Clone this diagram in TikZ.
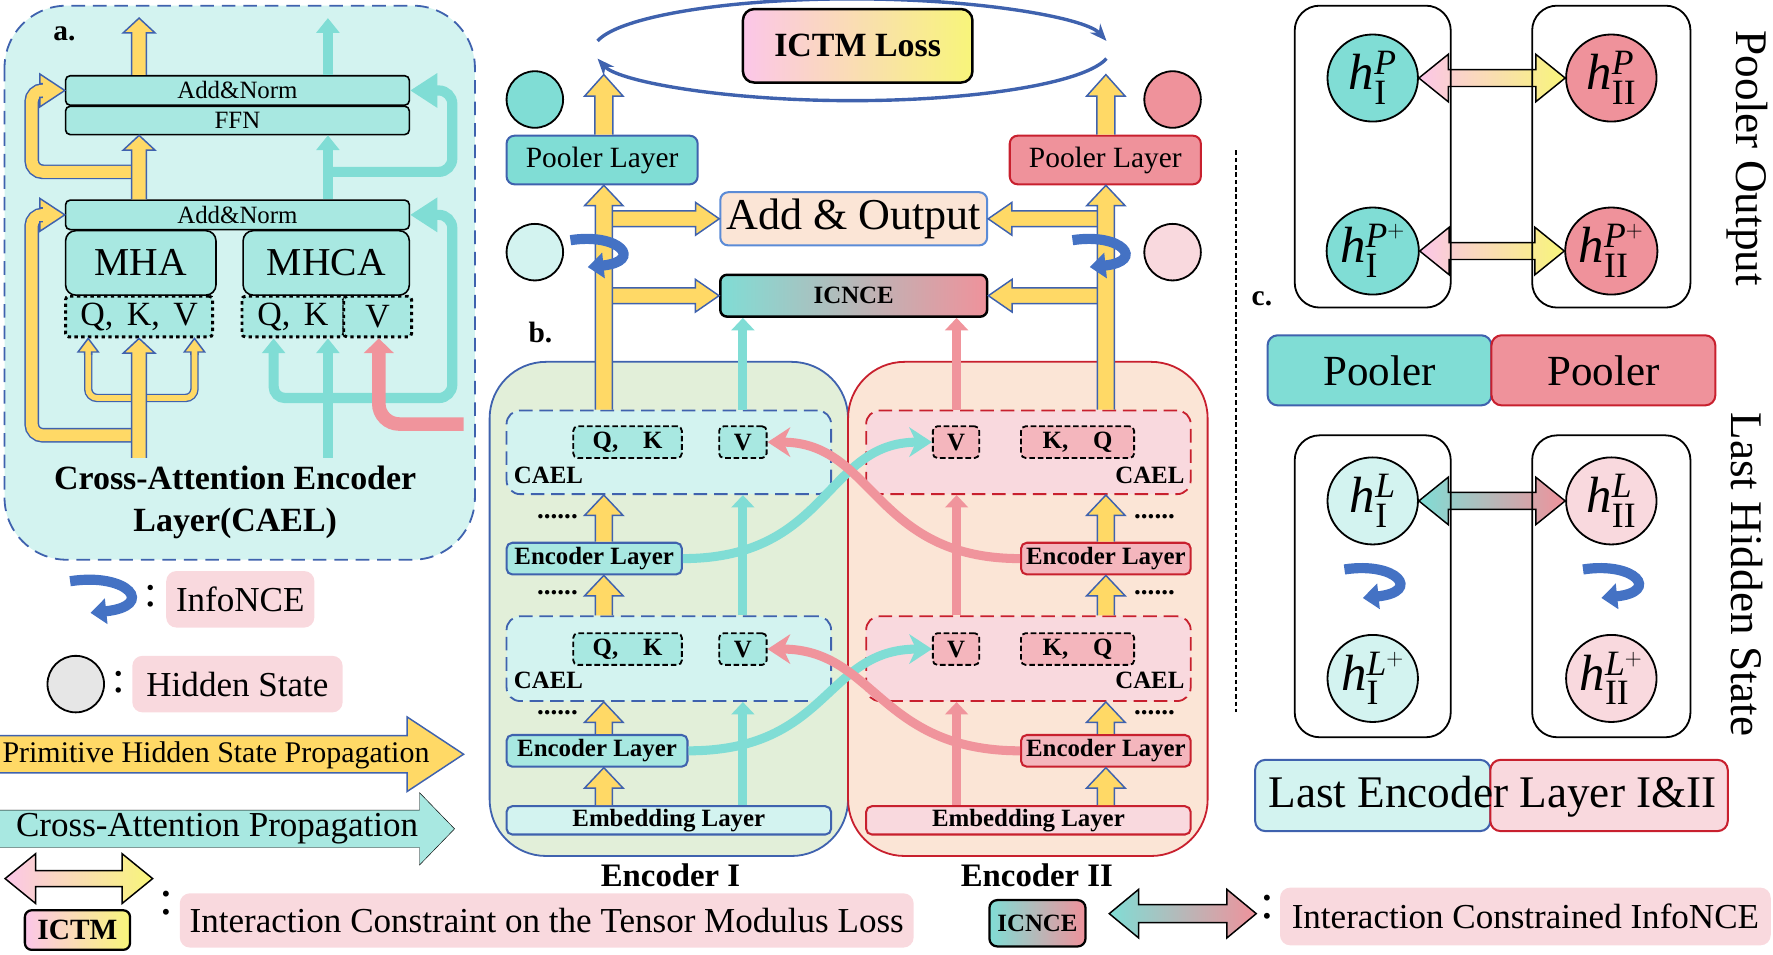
\documentclass[tikz,border=0pt]{standalone}
\usepackage{fontspec}
\setmainfont{Liberation Serif}
\usetikzlibrary{calc,arrows.meta,shapes.geometric}
\definecolor{blu}{HTML}{3F62AE}
\definecolor{blb}{HTML}{5B8BD6}
\definecolor{ylw}{HTML}{FFD966}
\definecolor{cyn}{HTML}{80DDD5}
\definecolor{cynl}{HTML}{D3F3F0}
\definecolor{cynm}{HTML}{A8E8E1}
\definecolor{rda}{HTML}{F0949C}
\definecolor{rdb}{HTML}{EF929B}
\definecolor{rdl}{HTML}{F9D9DE}
\definecolor{rdm}{HTML}{F4B6BD}
\definecolor{rde}{HTML}{C8202E}
\definecolor{grn}{HTML}{E2EFD9}
\definecolor{org}{HTML}{FBE5D6}
\definecolor{pnk}{HTML}{FBC6E8}
\definecolor{yl2}{HTML}{F8F57A}
\definecolor{ncb}{HTML}{4472C4}
\definecolor{gry}{HTML}{E6E6E6}
\newcommand{\fsz}[1]{\fontsize{#1}{#1}\selectfont}
% h with spread sub- and superscript
\newcommand{\hh}[2]{$\mathit{h}_{\raisebox{-4pt}{$\scriptstyle\mathrm{#1}$}}^{\raisebox{4pt}{$\scriptstyle#2$}}$}
% block arrow: style, from, to, half shaft, half head, head length
\newcommand{\blk}[6]{%
  \coordinate (hb) at ($(#3)!#6!(#2)$);
  \draw[#1] ($(#2)!#4!90:(#3)$) -- ($(hb)!#4!90:(#3)$) -- ($(hb)!#5!90:(#3)$)
    -- (#3) -- ($(hb)!#5!-90:(#3)$) -- ($(hb)!#4!-90:(#3)$) -- ($(#2)!#4!-90:(#3)$);}
% two headed block arrow
\newcommand{\dblk}[6]{%
  \coordinate (ha) at ($(#2)!#6!(#3)$);
  \coordinate (hb) at ($(#3)!#6!(#2)$);
  \draw[#1] (#2) -- ($(ha)!#5!90:(#3)$) -- ($(ha)!#4!90:(#3)$) -- ($(hb)!#4!90:(#3)$)
    -- ($(hb)!#5!90:(#3)$) -- (#3) -- ($(hb)!#5!-90:(#3)$) -- ($(hb)!#4!-90:(#3)$)
    -- ($(ha)!#4!-90:(#3)$) -- ($(ha)!#5!-90:(#3)$) -- cycle;}
\newcommand{\yup}[2]{\blk{yblk}{#1}{#2}{7.5pt}{17pt}{18pt}}

\begin{document}
\begin{tikzpicture}[x=1pt,y=-1pt,
    bx/.style={draw, line width=1.4pt, rounded corners=4pt, inner sep=0pt},
    lg/.style={fill=rdl, rounded corners=9pt, inner sep=0pt, font=\fsz{31}},
    qkv/.style={draw, line width=2.6pt, dash pattern=on 3pt off 3pt, fill=cynm,
        rounded corners=3pt, inner sep=0pt, minimum height=36, font=\fsz{30}},
    qb/.style={draw, line width=1.6pt, dash pattern=on 5pt off 2.5pt, rounded corners=4pt,
        inner sep=0pt, minimum height=28, font=\bfseries\fsz{22}},
    cael/.style={line width=1.6pt, dash pattern=on 12pt off 6pt, rounded corners=12pt,
        minimum width=287, minimum height=74, inner sep=0pt},
    enc/.style={draw, line width=1.8pt, rounded corners=5pt, minimum height=28,
        inner sep=0pt, font=\bfseries\fsz{22}},
    hst/.style={circle, draw, line width=1.6pt, minimum size=50, inner sep=0pt},
    hc/.style={ellipse, draw, line width=1.6pt, minimum width=80, minimum height=77,
        inner sep=0pt, font=\fsz{45}},
    yblk/.style={fill=ylw, draw=blu, line width=1.3pt},
    ydbl/.style={draw=blu, line width=1.3pt, double=ylw, double distance=10.4pt,
        rounded corners=10pt},
    ydbs/.style={draw=blu, line width=1.2pt, double=ylw, double distance=5pt,
        rounded corners=8pt},
    carr/.style={cyn, line width=9pt, -{Triangle[width=20pt,length=13pt]}},
    cbig/.style={cyn, line width=9pt, rounded corners=12pt, -{Triangle[width=29pt,length=24pt]}},
    varr/.style={line width=8pt, -{Triangle[width=20pt,length=11pt]}},
    crv/.style={line width=8pt, -{Stealth[length=20pt,width=26pt,inset=6pt]}},
    ell/.style={blu, line width=3pt, -{Stealth[length=15pt,width=12pt]}},
    dbpy/.style={left color=pnk, right color=yl2, draw=black, line width=1.3pt},
    dbcr/.style={left color=cyn, right color=rdb, draw=black, line width=1.3pt},
    infonce/.pic={\draw[ncb, line width=9pt, -{Triangle[width=22pt,length=14pt]}]
        (-30,-16) .. controls (22,-24) and (46,6) .. (-12,12);}]
\useasboundingbox (0,0) rectangle (1568,844);

% a. cross-attention encoder layer
\draw[blu, line width=1.6pt, dash pattern=on 12pt off 7pt, fill=cynl, rounded corners=55pt]
    (4,5) rectangle (420,495);
\node[font=\bfseries\fsz{26}] (la) at (57,30) {a.};
\node[bx, fill=cynm, minimum width=304, minimum height=26, font=\fsz{22}] (an2) at (210,80) {Add\&Norm};
\node[bx, fill=cynm, minimum width=304, minimum height=25, font=\fsz{22}] (ffn) at (210,106.5) {FFN};
\node[bx, fill=cynm, minimum width=304, minimum height=26, font=\fsz{22}] (an1) at (210,190) {Add\&Norm};
\node[bx, fill=cynm, rounded corners=9pt, minimum width=133, minimum height=57, font=\fsz{35}] (mha) at (124.5,232.5) {MHA};
\node[bx, fill=cynm, rounded corners=9pt, minimum width=147, minimum height=57, font=\fsz{35}] (mhca) at (288.5,232.5) {MHCA};
\node[qkv, minimum width=130] (qkv) at (123,280) {Q,\hspace{12pt}K,\hspace{12pt}V};
\node[qkv, minimum width=90] (qk2) at (259,280) {Q,\hspace{12pt}K};
\node[qkv, minimum width=60] (v2) at (334,280) {V};
\node[font=\bfseries\fontsize{30}{37}\selectfont, align=center] (tla) at (208,444)
    {Cross-Attention Encoder\\Layer(CAEL)};
\coordinate (ya) at (123,0);
\coordinate (yq) at (78,0);
\coordinate (yv) at (172,0);
\coordinate (ca) at (290,0);
\coordinate (cq) at (242,0);
\coordinate (rv) at (335,0);
\coordinate (outa) at (123,16);
\coordinate (outc) at (290,16);
\draw[ydbl] (123,385) -| (28,190) -- (40,190);
\blk{yblk}{38,190}{an1.west}{6.1pt}{14.5pt}{22pt}
\draw[ydbl] (123,152) -| (28,80) -- (40,80);
\blk{yblk}{38,80}{an2.west}{6.1pt}{14.5pt}{22pt}
\draw[ydbs] (78,312) |- (172,352) -- (172,312);
\blk{yblk}{78,314}{qkv.south -| yq}{3.1pt}{9pt}{12pt}
\blk{yblk}{172,314}{qkv.south -| yv}{3.1pt}{9pt}{12pt}
\blk{yblk}{123,405}{qkv.south -| ya}{6.5pt}{14pt}{13pt}
\blk{yblk}{an1.north -| ya}{ffn.south -| ya}{6.5pt}{14pt}{13pt}
\blk{yblk}{an2.north -| ya}{outa}{6.5pt}{14pt}{13pt}
\draw[carr] (290,405) -- (qk2.south -| ca);
\draw[carr, rounded corners=10pt] (290,352) -| (qk2.south -| cq);
\draw[cbig] (290,352) -| (400,190) -- (an1.east);
\draw[cbig] (290,152) -| (400,80) -- (an2.east);
\draw[carr] (an1.north -| ca) -- (ffn.south -| ca);
\draw[carr] (an2.north -| ca) -- (outc);
\draw[rda, line width=12pt, rounded corners=18pt, -{Triangle[width=26pt,length=13pt]}]
    (410,375) -| (v2.south -| rv);

% legend
\pic at (92,530) {infonce};
\node[font=\fsz{40}] (c1) at (133,527) {:};
\node[lg, minimum width=131, minimum height=50] (lnce) at (212.5,530) {InfoNCE};
\node[hst, fill=gry] (hs) at (67,605) {};
\node[font=\fsz{40}] (c2) at (105,603) {:};
\node[lg, minimum width=186, minimum height=50] (lhs) at (210,605) {Hidden State};
\coordinate (pa0) at (0,667);
\coordinate (pa1) at (410,667);
\blk{yblk}{pa0}{pa1}{16.5pt}{33pt}{50pt}
\node[font=\fsz{26.5}] (lpa) at (191,668) {Primitive Hidden State Propagation};
\coordinate (ca0) at (0,733);
\coordinate (ca1) at (402,733);
\blk{fill=cynm}{ca0}{ca1}{16.5pt}{32pt}{31pt}
\node[font=\fsz{31}] (lca) at (192,733) {Cross-Attention Propagation};
\coordinate (da0) at (4.5,777);
\coordinate (da1) at (135,777);
\dblk{dbpy}{da0}{da1}{7pt}{22pt}{27pt}
\node[bx, left color=pnk, right color=yl2, line width=2pt, rounded corners=6pt, minimum width=93,
    minimum height=35, font=\bfseries\fsz{26}] (ictmlg) at (68.5,822.5) {ICTM};
\node[font=\fsz{44}] (c3) at (147,799) {:};
\node[lg, minimum width=649, minimum height=48] (lictm) at (483.5,814)
    {Interaction Constraint on the Tensor Modulus Loss};

% b. encoders
\node[font=\bfseries\fsz{26}] (lb) at (478,294) {b.};
\node[draw=blu, fill=grn, line width=1.6pt, rounded corners=50pt, minimum width=317,
    minimum height=437, inner sep=0pt] (encI) at (591.5,538.5) {};
\node[draw=rde, fill=org, line width=1.6pt, rounded corners=50pt, minimum width=318,
    minimum height=437, inner sep=0pt] (encII) at (909,538.5) {};
\node[font=\bfseries\fsz{29}] (lencI) at (593,774) {Encoder I};
\node[font=\bfseries\fsz{29}] (lencII) at (917,774) {Encoder II};
\node[cael, draw=blu, fill=cynl] (caelIa) at (591.5,400) {};
\node[cael, draw=blu, fill=cynl, minimum height=75] (caelIb) at (591.5,582.5) {};
\node[cael, draw=rde, fill=rdl] (caelIIa) at (909.5,400) {};
\node[cael, draw=rde, fill=rdl, minimum height=75] (caelIIb) at (909.5,582.5) {};
\node[qb, fill=cynm, minimum width=96] (qkIa) at (555,391) {Q,\hspace{22pt}K};
\node[qb, fill=cynm, minimum width=42] (vIa) at (657,391) {V};
\node[qb, fill=cynm, minimum width=96] (qkIb) at (555,574) {Q,\hspace{22pt}K};
\node[qb, fill=cynm, minimum width=42] (vIb) at (657,574) {V};
\node[qb, fill=rdm, minimum width=41] (vIIa) at (845.5,391) {V};
\node[qb, fill=rdm, minimum width=100] (kqIIa) at (953,391) {K,\hspace{22pt}Q};
\node[qb, fill=rdm, minimum width=41] (vIIb) at (845.5,574) {V};
\node[qb, fill=rdm, minimum width=100] (kqIIb) at (953,574) {K,\hspace{22pt}Q};
\node[anchor=west, font=\bfseries\fsz{22}] (tIa) at (451,420) {CAEL};
\node[anchor=west, font=\bfseries\fsz{22}] (tIb) at (451,602) {CAEL};
\node[anchor=east, font=\bfseries\fsz{22}] (tIIa) at (1051,420) {CAEL};
\node[anchor=east, font=\bfseries\fsz{22}] (tIIb) at (1051,602) {CAEL};
\foreach \y [count=\i] in {457,524,630}{
    \node[font=\bfseries\fsz{24}] (dI\i) at (493,\y) {......};
    \node[font=\bfseries\fsz{24}] (dII\i) at (1021,\y) {......};}
\node[enc, draw=blu, fill=cynm, minimum width=155] (elIa) at (525.5,494) {Encoder Layer};
\node[enc, draw=blu, fill=cynm, minimum width=160] (elIb) at (528,664) {Encoder Layer};
\node[enc, draw=rde, fill=rdm, minimum width=150] (elIIa) at (978,494) {Encoder Layer};
\node[enc, draw=rde, fill=rdm, minimum width=150] (elIIb) at (978,664) {Encoder Layer};
\node[enc, draw=blu, fill=cynl, minimum width=287, minimum height=25] (embI) at (591.5,725.5) {Embedding Layer};
\node[enc, draw=rde, fill=rdl, minimum width=287, minimum height=25] (embII) at (909.5,725.5) {Embedding Layer};

% top of b.
\node[hst, fill=cyn] (sI) at (473,88) {};
\node[hst, fill=cynl] (sIl) at (473,223) {};
\node[hst, fill=rdb] (sII) at (1037,88) {};
\node[hst, fill=rdl] (sIIl) at (1037,223) {};
\node[bx, draw=blu, fill=cyn, line width=1.8pt, rounded corners=7pt, minimum width=169,
    minimum height=43, font=\fsz{26}] (poolI) at (532.5,141.5) {Pooler Layer};
\node[bx, draw=rde, fill=rdb, line width=1.8pt, rounded corners=7pt, minimum width=169,
    minimum height=43, font=\fsz{26}] (poolII) at (977.5,141.5) {Pooler Layer};
\node[bx, draw=blb, fill=org, line width=1.8pt, rounded corners=7pt, minimum width=236,
    minimum height=47, font=\fsz{39}] (addout) at (755,193.5) {Add \& Output};
\node[bx, left color=cyn, right color=rdb, line width=2.2pt, rounded corners=6pt, minimum width=236,
    minimum height=37, font=\bfseries\fsz{22}] (icnce) at (755,261.5) {ICNCE};
\node[bx, left color=pnk, right color=yl2, line width=2.2pt, rounded corners=10pt, minimum width=203,
    minimum height=65, font=\bfseries\fsz{30}] (ictm) at (758.5,40.5) {ICTM Loss};
\coordinate (ec) at (753.5,44);
\draw[ell] (ec) ++(170:228.5pt and 45pt) arc[start angle=170, end angle=10, x radius=228.5pt, y radius=45pt];
\draw[ell] (ec) ++(-10:228.5pt and 45pt) arc[start angle=-10, end angle=-170, x radius=228.5pt, y radius=45pt];

\coordinate (yI) at (534,0);
\coordinate (yII) at (978,0);
\coordinate (cI) at (657,0);
\coordinate (rII) at (846,0);
\coordinate (topI) at (534,66);
\coordinate (topII) at (978,66);
\yup{embI.north -| yI}{elIb.south -| yI}
\yup{elIb.north -| yI}{caelIb.south -| yI}
\yup{caelIb.north -| yI}{elIa.south -| yI}
\yup{elIa.north -| yI}{caelIa.south -| yI}
\yup{embII.north -| yII}{elIIb.south -| yII}
\yup{elIIb.north -| yII}{caelIIb.south -| yII}
\yup{caelIIb.north -| yII}{elIIa.south -| yII}
\yup{elIIa.north -| yII}{caelIIa.south -| yII}
\blk{yblk}{addout.west -| yI}{addout.west}{7pt}{14.5pt}{21pt}
\blk{yblk}{icnce.west -| yI}{icnce.west}{7pt}{14.5pt}{21pt}
\blk{yblk}{addout.east -| yII}{addout.east}{7pt}{14.5pt}{21pt}
\blk{yblk}{icnce.east -| yII}{icnce.east}{7pt}{14.5pt}{21pt}
\yup{caelIa.north -| yI}{poolI.south -| yI}
\yup{caelIIa.north -| yII}{poolII.south -| yII}
\blk{yblk}{poolI.north -| yI}{topI}{8pt}{17pt}{19pt}
\blk{yblk}{poolII.north -| yII}{topII}{8pt}{17pt}{19pt}
\pic[scale=0.85] at (530,226) {infonce};
\pic[scale=0.85] at (974,226) {infonce};

\draw[varr, cyn] (embI.north -| cI) -- (caelIb.south -| cI);
\draw[varr, cyn] (caelIb.north -| cI) -- (caelIa.south -| cI);
\draw[varr, cyn] (caelIa.north -| cI) -- (icnce.south -| cI);
\draw[varr, rda] (embII.north -| rII) -- (caelIIb.south -| rII);
\draw[varr, rda] (caelIIb.north -| rII) -- (caelIIa.south -| rII);
\draw[varr, rda] (caelIIa.north -| rII) -- (icnce.south -| rII);
\draw[crv, cyn] (elIa.east) .. controls +(130,0) and +(-95,0) .. (vIIa.west);
\draw[crv, cyn] (elIb.east) .. controls +(125,0) and +(-95,0) .. (vIIb.west);
\draw[crv, rda] (elIIa.west) .. controls +(-130,0) and +(95,0) .. (vIa.east);
\draw[crv, rda] (elIIb.west) .. controls +(-125,0) and +(95,0) .. (vIb.east);

% c. pooler output and last hidden state
\draw[line width=1.2pt, dash pattern=on 4pt off 2.5pt] (1093,133) -- (1093,630);
\node[font=\bfseries\fsz{26}] (lc) at (1116,264) {c.};
\node[hc, fill=cyn] (hIP) at (1214,69) {\hh{I}{\mathit{P}}};
\node[hc, fill=rdb] (hIIP) at (1425,69) {\hh{II}{\mathit{P}}};
\node[hc, fill=cyn] (hIPp) at (1214,222) {\hh{I}{\mathit{P}^{+}}};
\node[hc, fill=rdb] (hIIPp) at (1425,222) {\hh{II}{\mathit{P}^{+}}};
\node[hc, fill=cynl] (hIL) at (1214,443) {\hh{I}{\mathit{L}}};
\node[hc, fill=rdl] (hIIL) at (1425,443) {\hh{II}{\mathit{L}}};
\node[hc, fill=cynl] (hILp) at (1214,600) {\hh{I}{\mathit{L}^{+}}};
\node[hc, fill=rdl] (hIILp) at (1425,600) {\hh{II}{\mathit{L}^{+}}};
\dblk{dbpy}{hIP.east}{hIIP.west}{7.5pt}{21pt}{26pt}
\dblk{dbpy}{hIPp.east}{hIIPp.west}{7.5pt}{21pt}{26pt}
\dblk{dbcr}{hIL.east}{hIIL.west}{7.5pt}{21pt}{26pt}
\pic[scale=0.9] at (1216,518) {infonce};
\pic[scale=0.9] at (1427,518) {infonce};
\node[draw, line width=1.6pt, rounded corners=22pt, minimum width=138, minimum height=267,
    inner sep=0pt] (fa) at (1214,138.5) {};
\node[draw, line width=1.6pt, rounded corners=22pt, minimum width=140, minimum height=267,
    inner sep=0pt] (fb) at (1425,138.5) {};
\node[draw, line width=1.6pt, rounded corners=22pt, minimum width=138, minimum height=267,
    inner sep=0pt] (fc) at (1214,518.5) {};
\node[draw, line width=1.6pt, rounded corners=22pt, minimum width=140, minimum height=267,
    inner sep=0pt] (fd) at (1425,518.5) {};
\node[rotate=-90, font=\fsz{40}] (tpo) at (1545,140) {Pooler Output};
\node[rotate=-90, font=\fsz{40}] (tlh) at (1545,508) {Last Hidden State};
\node[bx, draw=blu, fill=cyn, line width=1.8pt, rounded corners=9pt, minimum width=198,
    minimum height=62, font=\fsz{38}] (pcI) at (1220,327.5) {Pooler};
\node[bx, draw=rde, fill=rdb, line width=1.8pt, rounded corners=9pt, minimum width=198,
    minimum height=62, font=\fsz{38}] (pcII) at (1418,327.5) {Pooler};
\node[bx, draw=blu, fill=cynl, line width=1.8pt, rounded corners=9pt, minimum width=208,
    minimum height=63] (leI) at (1214,703.5) {};
\node[bx, draw=rde, fill=rdl, line width=1.8pt, rounded corners=9pt, minimum width=210,
    minimum height=63] (leII) at (1423,703.5) {};
\node[font=\fsz{40}] (tle) at (1320,705) {Last Encoder Layer I\&II};

% ICNCE legend
\node[bx, left color=cyn, right color=rdb, line width=2pt, rounded corners=7pt, minimum width=85,
    minimum height=41, font=\bfseries\fsz{22}] (icnlg) at (917.5,816.5) {ICNCE};
\coordinate (db0) at (981,808);
\coordinate (db1) at (1111,808);
\dblk{dbcr}{db0}{db1}{8pt}{21.5pt}{26pt}
\node[font=\fsz{44}] (c4) at (1121,802) {:};
\node[lg, minimum width=434, minimum height=51] (licn) at (1349,810.5) {Interaction Constrained InfoNCE};
\end{tikzpicture}
\end{document}
